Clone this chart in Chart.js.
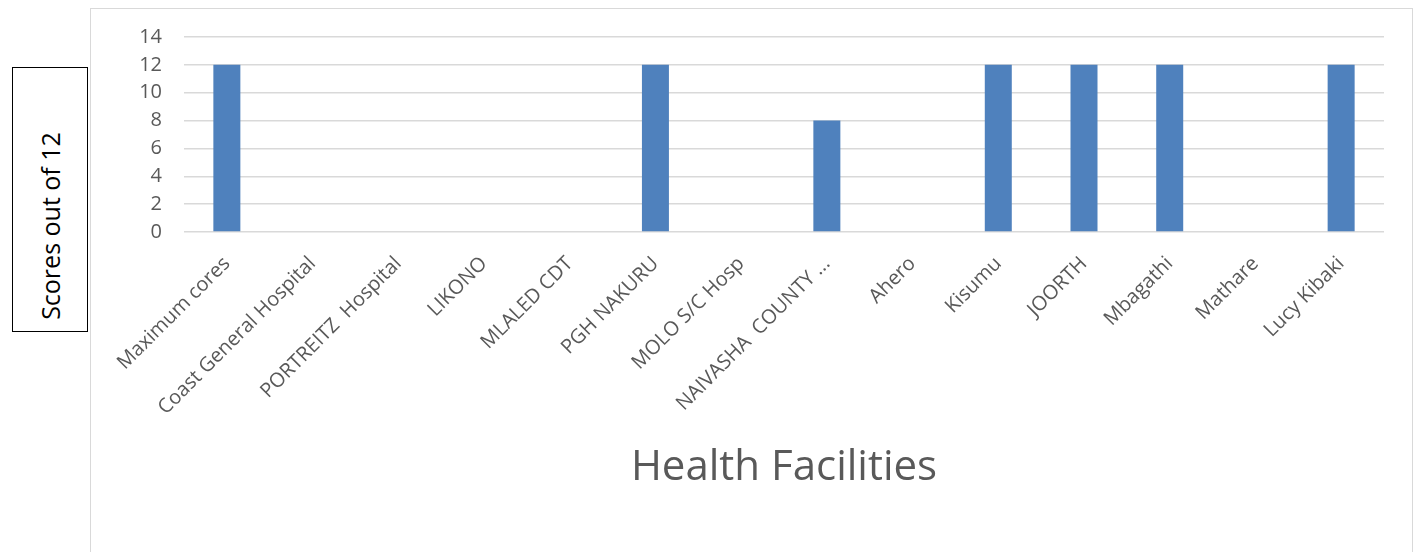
<!DOCTYPE html>
<html>
<head>
<meta charset="utf-8">
<script src="https://cdn.jsdelivr.net/npm/chart.js@4"></script>
<style>
  html, body { margin: 0; padding: 0; background: #fff; overflow: hidden; }
  body { width: 1416px; height: 552px; position: relative; }
  #chartBox {
    position: absolute; left: 90px; top: 8px;
    width: 1323px; height: 600px;
    border: 1px solid #d9d9d9; box-sizing: border-box;
  }
  #yLabel {
    position: absolute; left: 12px; top: 67px;
    width: 76px; height: 265px;
    border: 1px solid #000; box-sizing: border-box;
    display: flex; align-items: center; justify-content: center;
  }
  #yLabel span {
    transform: translateY(26px) rotate(-90deg); white-space: nowrap;
    font-family: 'Open Sans', sans-serif; font-size: 25px; color: #000;
  }
</style>
</head>
<body>
<div id="chartBox"><canvas id="chartScores" width="1321" height="598" style="width:1321px;height:598px"></canvas></div>
<div id="yLabel"><span>Scores out of 12</span></div>
<script>
// ---- data ----
const facilities = [
  'Maximum cores', 'Coast General Hospital', 'PORTREITZ  Hospital', 'LIKONO',
  'MLALED CDT', 'PGH NAKURU', 'MOLO S/C Hosp', 'NAIVASHA  COUNTY ...',
  'Ahero', 'Kisumu', 'JOORTH', 'Mbagathi', 'Mathare', 'Lucy Kibaki'
];
const scores = [12, 0, 0, 0, 0, 12, 0, 8, 0, 12, 12, 12, 0, 12];
const yTicks = [0, 2, 4, 6, 8, 10, 12, 14];

const labelFont = "'Open Sans', sans-serif";
const textColor = '#595959';
const gridColor = '#d9d9d9';

const CANVAS_H = 598;
const PLOT_BOTTOM = 223;

new Chart(document.getElementById('chartScores'), {
    type: 'bar',
    data: {
        labels: facilities,
        datasets: [{
            label: 'Score',
            data: scores,
            backgroundColor: '#4f81bd',
            borderWidth: 0,
            categoryPercentage: 1,
            barPercentage: 0.315
        }]
    },
    options: {
        responsive: false,
        animation: false,
        layout: { padding: { top: 28, right: 28, left: 0, bottom: 0 } },
        plugins: {
            legend: { display: false },
            tooltip: { enabled: false }
        },
        scales: {
            x: {
                grid: { display: false, drawTicks: false },
                border: { display: false },
                ticks: {
                    color: textColor,
                    font: { family: labelFont, size: 20 },
                    minRotation: 45, maxRotation: 45,
                    autoSkip: false,
                    padding: 20
                },
                title: {
                    display: true,
                    text: 'Health Facilities',
                    color: textColor,
                    font: { family: labelFont, size: 42 },
                    padding: { top: 0, bottom: 114 }
                },
                afterFit: (scale) => {
                    scale.height = CANVAS_H - PLOT_BOTTOM;
                    scale.paddingLeft = 0;
                    scale.paddingRight = 0;
                }
            },
            y: {
                min: 0, max: 14,
                grid: { color: gridColor, lineWidth: 1.5, drawTicks: false },
                border: { display: false },
                afterBuildTicks: (scale) => { scale.ticks = yTicks.map(v => ({ value: v })); },
                ticks: {
                    color: textColor,
                    font: { family: labelFont, size: 20 },
                    padding: 22
                },
                afterFit: (scale) => {
                    scale.width = 93;
                    scale.paddingTop = 0;
                    scale.paddingBottom = 0;
                }
            }
        }
    }
});
</script>
</body>
</html>
